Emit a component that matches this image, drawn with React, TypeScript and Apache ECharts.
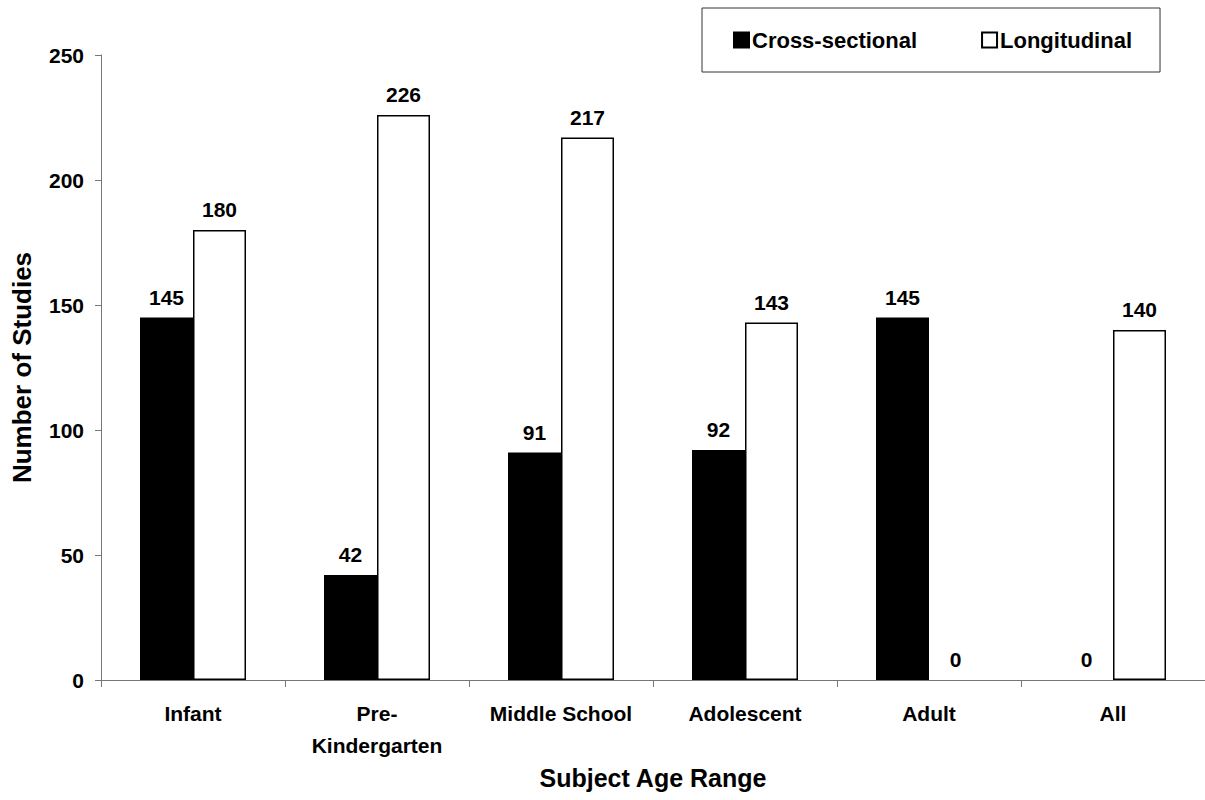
import React, { useEffect, useRef } from "react";
import * as echarts from "echarts";

const categories = ["Infant", "Pre-\nKindergarten", "Middle School", "Adolescent", "Adult", "All"];
const crossSectional = [145, 42, 91, 92, 145, 0];
const longitudinal = [180, 226, 217, 143, 0, 140];
const yTicks = { min: 0, max: 250, interval: 50 };

const FONT = "'Liberation Sans', Arial, Helvetica, sans-serif";

const toData = (arr: number[]) =>
  arr.map((v) => (v === 0 ? { value: v, itemStyle: { borderWidth: 0, opacity: 0 } } : v));

export default function App() {
  const ref = useRef<HTMLDivElement>(null);
  useEffect(() => {
    document.body.style.margin = "0";
    const chart = echarts.init(ref.current!, null, { renderer: "svg" });
    const labelStyle = {
      show: true,
      position: "top" as const,
      distance: 10,
      color: "#000",
      fontFamily: FONT,
      fontWeight: "bold" as const,
      fontSize: 21,
      opacity: 1,
    };
    chart.setOption({
      animation: false,
      backgroundColor: "#fff",
      textStyle: { fontFamily: FONT },
      legend: {
        left: 702,
        top: 8,
        padding: [21, 28, 21, 31],
        itemGap: 64,
        itemWidth: 15,
        itemHeight: 15,
        borderColor: "#333",
        borderWidth: 1,
        backgroundColor: "#fff",
        icon: "rect",
        textStyle: { color: "#000", fontFamily: FONT, fontWeight: "bold", fontSize: 22, padding: [0, 0, 0, -2] },
        data: ["Cross-sectional", "Longitudinal"],
      },
      grid: { left: 101, top: 55, bottom: 120, right: -1, containLabel: false },
      xAxis: {
        type: "category",
        data: categories,
        name: "Subject Age Range",
        nameLocation: "middle",
        nameGap: 85,
        nameTextStyle: { color: "#000", fontFamily: FONT, fontWeight: "bold", fontSize: 25 },
        axisLine: { lineStyle: { color: "#777", width: 1 } },
        axisTick: { show: true, length: 7, lineStyle: { color: "#777" } },
        axisLabel: {
          color: "#000",
          fontFamily: FONT,
          fontWeight: "bold",
          fontSize: 21,
          margin: 17,
          lineHeight: 32,
          interval: 0,
        },
      },
      yAxis: {
        type: "value",
        min: yTicks.min,
        max: yTicks.max,
        interval: yTicks.interval,
        name: "Number of Studies",
        nameLocation: "middle",
        nameGap: 66,
        nameRotate: 90,
        nameTextStyle: { color: "#000", fontFamily: FONT, fontWeight: "bold", fontSize: 26 },
        splitLine: { show: false },
        axisLine: { show: true, lineStyle: { color: "#777", width: 1 } },
        axisTick: { show: true, length: 6, lineStyle: { color: "#777" } },
        axisLabel: { color: "#000", fontFamily: FONT, fontWeight: "bold", fontSize: 21, margin: 17 },
      },
      series: [
        {
          name: "Cross-sectional",
          type: "bar",
          data: toData(crossSectional),
          barWidth: 53,
          barGap: "0%",
          itemStyle: { color: "#000", borderColor: "#000", borderWidth: 1.5 },
          label: labelStyle,
        },
        {
          name: "Longitudinal",
          type: "bar",
          data: toData(longitudinal),
          barWidth: 53,
          barGap: "0%",
          itemStyle: { color: "#fff", borderColor: "#000", borderWidth: 1.5 },
          label: labelStyle,
        },
      ],
    });
    return () => chart.dispose();
  }, []);
  return <div ref={ref} style={{ width: 1205, height: 800 }} />;
}
